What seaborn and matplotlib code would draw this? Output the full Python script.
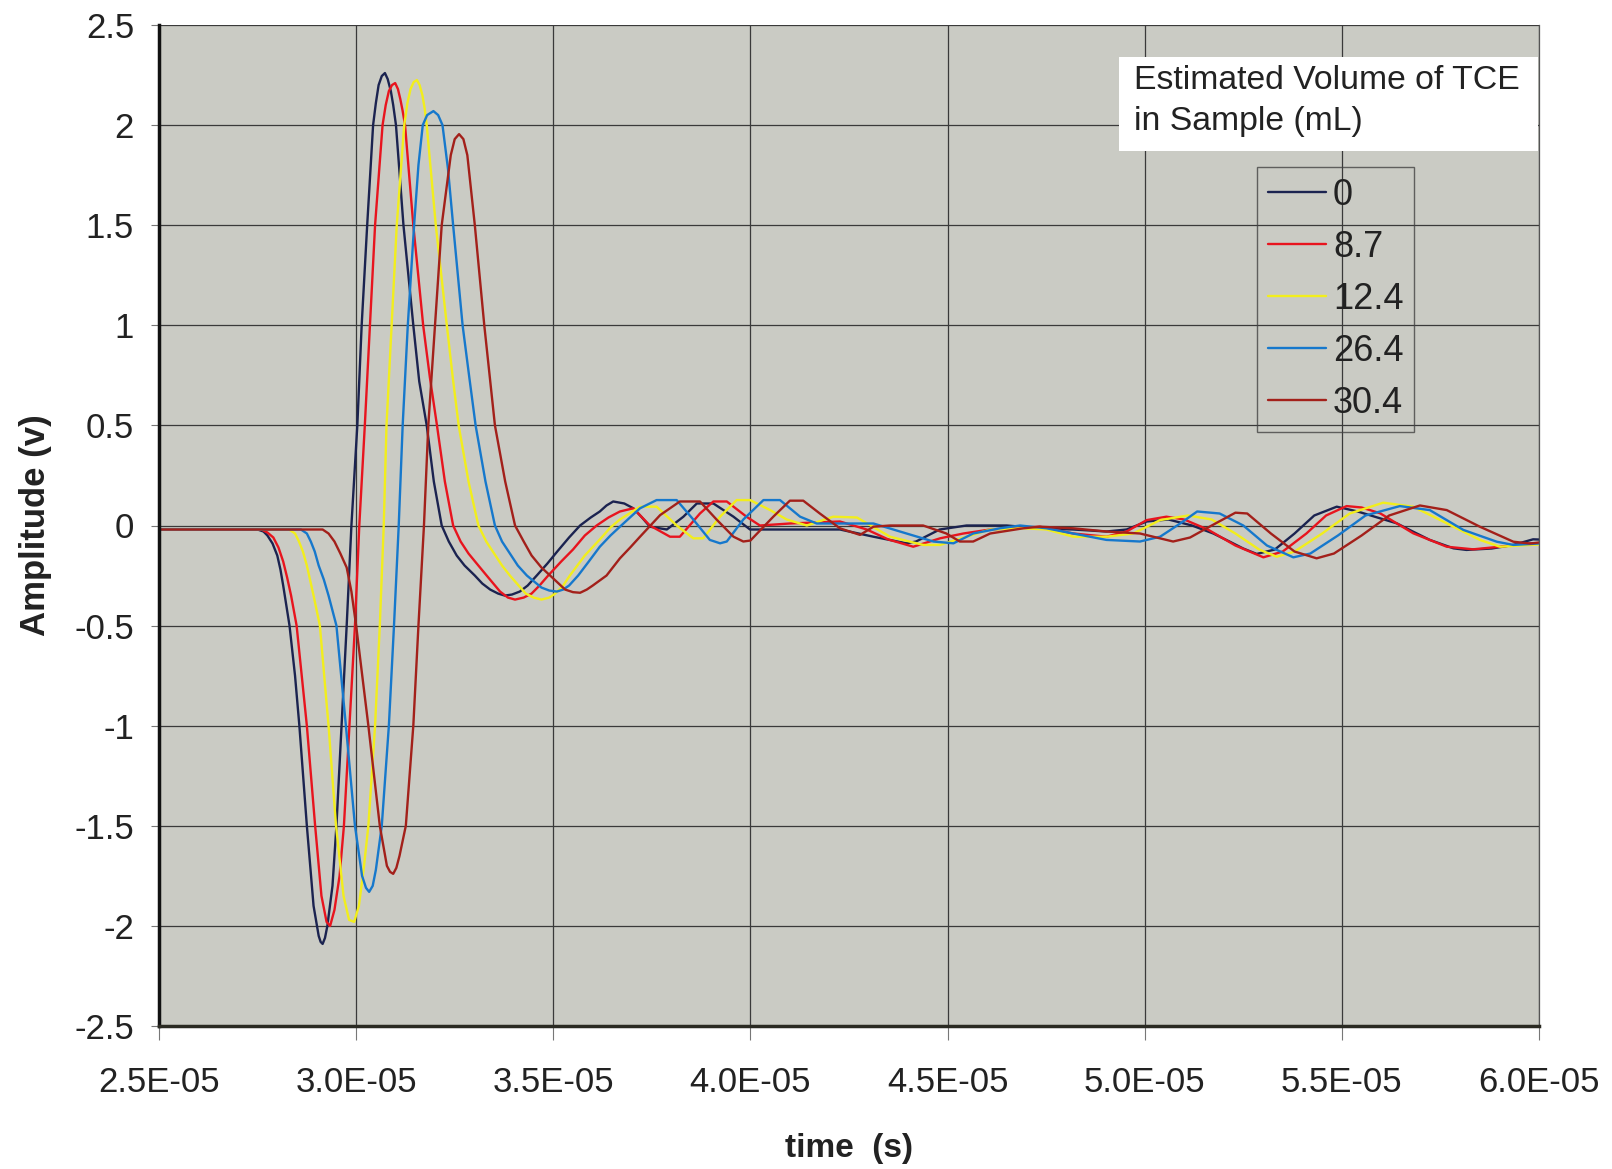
import numpy as np
import pandas as pd
import matplotlib
matplotlib.use("Agg")
import matplotlib.pyplot as plt
import seaborn as sns
from matplotlib.lines import Line2D
from matplotlib.patches import Rectangle

# ---------------- data (time in microseconds, amplitude in volts) ----------------
volumes = ["0", "8.7", "12.4", "26.4", "30.4"]

t_0 = [25.0, 27.5, 27.65, 27.75, 27.88, 28.0, 28.08, 28.15, 28.31, 28.45, 28.56, 28.75, 28.92, 29.05, 29.1,
       29.15, 29.21, 29.27, 29.4, 29.5, 29.63, 29.76, 29.88, 30.03, 30.14, 30.28, 30.43, 30.5, 30.57, 30.65,
       30.73, 30.8, 30.88, 30.94, 31.01, 31.2, 31.45, 31.6, 31.79, 31.97, 32.17, 32.35, 32.55, 32.75, 33.01,
       33.2, 33.4, 33.6, 33.77, 33.95, 34.15, 34.35, 34.58, 34.85, 35.1, 35.4, 35.68, 35.95, 36.18, 36.35,
       36.52, 36.8, 37.03, 37.25, 37.45, 37.88, 38.3, 38.64, 39.06, 39.57, 39.99, 41.26, 42.27, 43.12, 43.96,
       44.2, 44.8, 45.48, 46.5, 47.34, 48.18, 49.03, 49.54, 50.05, 50.6, 51.2, 51.74, 52.16, 52.5, 52.84,
       53.3, 53.8, 54.3, 54.87, 55.4, 55.9, 56.39, 56.8, 57.23, 57.83, 58.16, 58.8, 59.35, 59.85, 60.0]
v_0 = [-0.02, -0.02, -0.03, -0.05, -0.09, -0.15, -0.22, -0.3, -0.5, -0.75, -1.0, -1.5, -1.9, -2.05, -2.08,
       -2.09, -2.06, -2.0, -1.8, -1.5, -1.0, -0.5, 0.0, 0.5, 1.0, 1.5, 2.0, 2.11, 2.2, 2.245,
       2.26, 2.23, 2.17, 2.1, 2.0, 1.5, 1.0, 0.72, 0.5, 0.22, 0.0, -0.08, -0.15, -0.2, -0.25,
       -0.29, -0.32, -0.34, -0.35, -0.345, -0.33, -0.3, -0.25, -0.19, -0.13, -0.06, 0.0, 0.04, 0.07, 0.1,
       0.12, 0.11, 0.086, 0.04, -0.006, -0.02, 0.044, 0.11, 0.11, 0.044, -0.02, -0.02, -0.02, -0.056, -0.089,
       -0.08, -0.02, 0.0, 0.0, -0.014, -0.02, -0.03, -0.02, 0.02, 0.03, 0.0, -0.04, -0.081, -0.115, -0.142,
       -0.12, -0.04, 0.05, 0.094, 0.07, 0.04, 0.011, -0.03, -0.072, -0.114, -0.122, -0.115, -0.097, -0.069, -0.07]

t_87 = [25.0, 27.6, 27.75, 27.9, 28.03, 28.15, 28.25, 28.35, 28.49, 28.62, 28.75, 28.96, 29.12, 29.25, 29.34,
        29.45, 29.58, 29.69, 29.83, 29.97, 30.08, 30.22, 30.35, 30.48, 30.67, 30.75, 30.83, 30.91, 30.99, 31.06,
        31.12, 31.18, 31.24, 31.45, 31.7, 31.87, 32.05, 32.25, 32.46, 32.65, 32.85, 33.1, 33.31, 33.65, 33.85,
        34.03, 34.25, 34.45, 34.65, 34.87, 35.2, 35.5, 35.8, 36.1, 36.4, 36.69, 37.03, 37.45, 37.96, 38.21,
        38.72, 39.06, 39.4, 39.9, 40.24, 41.0, 42.27, 42.95, 43.5, 44.13, 44.81, 45.4, 46.08, 47.34, 48.19,
        49.03, 49.54, 50.05, 50.55, 51.0, 51.6, 52.3, 53.01, 53.5, 54.1, 54.6, 55.12, 55.5, 55.97, 56.81,
        57.66, 58.33, 59.01, 59.77, 60.0]
v_87 = [-0.02, -0.02, -0.035, -0.06, -0.11, -0.18, -0.26, -0.35, -0.5, -0.75, -1.0, -1.5, -1.85, -1.98, -2.0,
        -1.92, -1.75, -1.5, -1.0, -0.5, 0.0, 0.5, 1.0, 1.5, 2.0, 2.1, 2.17, 2.2, 2.21, 2.18,
        2.13, 2.07, 2.0, 1.5, 1.0, 0.74, 0.5, 0.22, 0.0, -0.08, -0.14, -0.2, -0.25, -0.33, -0.36,
        -0.37, -0.36, -0.34, -0.3, -0.25, -0.18, -0.12, -0.05, 0.0, 0.04, 0.07, 0.086, 0.0, -0.056, -0.056,
        0.06, 0.12, 0.12, 0.044, 0.0, 0.01, 0.02, -0.02, -0.07, -0.106, -0.064, -0.04, -0.02, -0.006, -0.04,
        -0.056, -0.03, 0.027, 0.044, 0.03, -0.02, -0.1, -0.159, -0.13, -0.04, 0.05, 0.097, 0.09, 0.061, -0.039,
        -0.106, -0.119, -0.106, -0.089, -0.09]

t_124 = [25.0, 28.3, 28.45, 28.55, 28.65, 28.75, 28.92, 29.08, 29.3, 29.49, 29.68, 29.82, 29.95, 30.07, 30.2,
         30.31, 30.48, 30.6, 30.7, 30.77, 30.9, 31.03, 31.22, 31.3, 31.38, 31.46, 31.54, 31.61, 31.68, 31.74,
         31.79, 32.02, 32.3, 32.45, 32.6, 32.85, 33.1, 33.3, 33.5, 33.7, 33.9, 34.3, 34.5, 34.7, 34.9,
         35.05, 35.25, 35.42, 35.8, 36.18, 36.45, 36.69, 37.2, 37.62, 38.13, 38.55, 38.8, 39.23, 39.65, 39.99,
         40.5, 40.92, 41.43, 42.1, 42.7, 43.54, 44.38, 44.81, 45.48, 46.08, 46.92, 47.51, 48.19, 49.03, 49.71,
         50.39, 51.1, 51.7, 52.3, 52.9, 53.35, 53.8, 54.5, 55.2, 56.05, 56.81, 57.66, 58.5, 59.01, 59.77, 60.0]
v_124 = [-0.02, -0.02, -0.04, -0.08, -0.13, -0.2, -0.35, -0.5, -1.0, -1.5, -1.85, -1.97, -1.98, -1.9, -1.7,
         -1.5, -1.0, -0.5, 0.0, 0.5, 1.0, 1.5, 2.0, 2.11, 2.18, 2.215, 2.225, 2.2, 2.15, 2.08,
         2.0, 1.5, 1.0, 0.74, 0.5, 0.22, 0.0, -0.08, -0.14, -0.2, -0.25, -0.34, -0.36, -0.37, -0.36,
         -0.34, -0.3, -0.25, -0.15, -0.07, -0.01, 0.03, 0.094, 0.094, 0.0, -0.064, -0.064, 0.044, 0.127, 0.127,
         0.077, 0.03, 0.0, 0.044, 0.04, -0.056, -0.097, -0.097, -0.056, -0.02, -0.014, -0.02, -0.056, -0.056, -0.04,
         0.027, 0.05, 0.03, -0.04, -0.12, -0.156, -0.13, -0.04, 0.06, 0.114, 0.094, 0.011, -0.072, -0.106, -0.097, -0.095]

t_264 = [25.0, 28.6, 28.75, 28.85, 28.95, 29.05, 29.18, 29.3, 29.5, 29.74, 29.97, 30.15, 30.25, 30.33, 30.42,
         30.5, 30.65, 30.83, 30.96, 31.08, 31.18, 31.31, 31.47, 31.58, 31.69, 31.8, 31.96, 32.08, 32.19, 32.33,
         32.46, 32.7, 32.87, 33.03, 33.28, 33.52, 33.7, 33.9, 34.1, 34.33, 34.7, 34.9, 35.09, 35.25, 35.4,
         35.63, 35.9, 36.18, 36.45, 36.69, 37.2, 37.62, 38.13, 38.55, 38.97, 39.23, 39.4, 39.82, 40.33, 40.75,
         41.26, 41.68, 42.27, 43.12, 43.96, 44.64, 45.15, 45.65, 46.33, 46.84, 47.51, 48.19, 49.03, 49.88, 50.39,
         50.9, 51.33, 51.9, 52.5, 53.1, 53.77, 54.2, 54.9, 55.6, 56.47, 57.23, 58.08, 58.93, 59.35, 60.0]
v_264 = [-0.02, -0.02, -0.04, -0.08, -0.13, -0.2, -0.27, -0.35, -0.5, -1.0, -1.5, -1.75, -1.81, -1.83, -1.8,
         -1.72, -1.5, -1.0, -0.5, 0.0, 0.5, 1.0, 1.5, 1.8, 2.0, 2.05, 2.07, 2.05, 2.0, 1.78,
         1.5, 1.0, 0.74, 0.5, 0.22, 0.0, -0.08, -0.14, -0.2, -0.25, -0.31, -0.325, -0.33, -0.32, -0.3,
         -0.25, -0.18, -0.106, -0.05, -0.006, 0.086, 0.127, 0.127, 0.03, -0.072, -0.089, -0.08, 0.03, 0.127, 0.127,
         0.044, 0.01, 0.01, 0.01, -0.04, -0.08, -0.089, -0.04, -0.014, 0.0, -0.014, -0.04, -0.072, -0.08, -0.056,
         0.01, 0.07, 0.06, 0.0, -0.1, -0.159, -0.14, -0.05, 0.05, 0.097, 0.077, -0.022, -0.081, -0.097, -0.09]

t_304 = [25.0, 29.15, 29.3, 29.45, 29.6, 29.76, 29.88, 30.0, 30.31, 30.6, 30.78, 30.86, 30.94, 31.02, 31.1,
         31.26, 31.45, 31.58, 31.72, 31.83, 32.0, 32.17, 32.4, 32.5, 32.61, 32.72, 32.82, 33.01, 33.25, 33.52,
         33.78, 34.03, 34.25, 34.45, 34.7, 34.92, 35.3, 35.5, 35.68, 35.85, 36.0, 36.35, 36.69, 36.95, 37.2,
         37.71, 38.21, 38.72, 39.14, 39.57, 39.82, 40.0, 40.58, 41.0, 41.34, 41.76, 42.27, 42.78, 43.12, 43.54,
         44.38, 44.97, 45.31, 45.65, 46.08, 46.92, 47.34, 48.19, 49.03, 49.88, 50.72, 51.15, 51.7, 52.3, 52.6,
         53.2, 53.8, 54.36, 54.8, 55.5, 56.2, 56.98, 57.66, 58.5, 59.35, 59.77, 60.0]
v_304 = [-0.02, -0.02, -0.04, -0.08, -0.14, -0.21, -0.33, -0.5, -1.0, -1.5, -1.7, -1.73, -1.74, -1.71, -1.65,
         -1.5, -1.0, -0.5, 0.0, 0.5, 1.0, 1.5, 1.85, 1.93, 1.955, 1.93, 1.85, 1.5, 1.0, 0.5,
         0.22, 0.0, -0.08, -0.15, -0.21, -0.25, -0.32, -0.333, -0.336, -0.32, -0.3, -0.25, -0.164, -0.11, -0.056,
         0.052, 0.12, 0.12, 0.03, -0.056, -0.08, -0.075, 0.044, 0.124, 0.124, 0.06, -0.014, -0.047, -0.006, 0.0,
         0.0, -0.04, -0.08, -0.08, -0.04, -0.014, -0.006, -0.014, -0.03, -0.04, -0.08, -0.06, 0.0, 0.064, 0.06,
         -0.04, -0.13, -0.164, -0.14, -0.05, 0.05, 0.1, 0.077, -0.006, -0.081, -0.09, -0.085]

times = [t_0, t_87, t_124, t_264, t_304]
amps = [v_0, v_87, v_124, v_264, v_304]

x_ticks = [2.5e-05, 3.0e-05, 3.5e-05, 4.0e-05, 4.5e-05, 5.0e-05, 5.5e-05, 6.0e-05]
x_tick_labels = ["2.5E-05", "3.0E-05", "3.5E-05", "4.0E-05", "4.5E-05", "5.0E-05", "5.5E-05", "6.0E-05"]
y_ticks = [2.5, 2, 1.5, 1, 0.5, 0, -0.5, -1, -1.5, -2, -2.5]
y_tick_labels = ["2.5", "2", "1.5", "1", "0.5", "0", "-0.5", "-1", "-1.5", "-2", "-2.5"]

colors = ["#1b2350", "#e8141e", "#f2ee1c", "#1678cc", "#a3201a"]

# ---------------- build table ----------------
frames = []
for vol, t, v in zip(volumes, times, amps):
    frames.append(pd.DataFrame({"time": np.array(t) * 1e-6, "amplitude": v, "volume": vol}))
df = pd.concat(frames, ignore_index=True)

# ---------------- plot ----------------
sns.set_theme(style="white")
plt.rcParams["font.family"] = ["Liberation Sans", "DejaVu Sans"]

fig = plt.figure(figsize=(16.12, 11.69), dpi=100)
fig.patch.set_facecolor("white")
ax = fig.add_axes([159 / 1612, 1 - 1026 / 1169, (1539 - 159) / 1612, (1026 - 25) / 1169])
ax.set_facecolor("#cacbc4")

sns.lineplot(data=df, x="time", y="amplitude", hue="volume", hue_order=volumes,
             palette=colors, estimator=None, sort=False, linewidth=1.7, legend=False, ax=ax)

ax.set_xlim(2.5e-05, 6.0e-05)
ax.set_ylim(-2.5, 2.5)
ax.set_xticks(x_ticks)
ax.set_xticklabels(x_tick_labels, fontsize=25, color="#222222")
ax.set_yticks(y_ticks)
ax.set_yticklabels(y_tick_labels, fontsize=25, color="#222222")
ax.tick_params(axis="x", length=10, width=0.8, color="#777777", pad=19, direction="out", bottom=True)
ax.tick_params(axis="y", length=6, width=0.8, color="#777777", pad=12, direction="out", left=True)
ax.grid(True, color="#3a3a3a", linewidth=0.9)
ax.set_axisbelow(True)

ax.spines["top"].set_visible(False)
ax.spines["right"].set_color("#555555")
ax.spines["right"].set_linewidth(0.9)
ax.spines["left"].set_color("#111111")
ax.spines["left"].set_linewidth(2.5)
ax.spines["bottom"].set_color("#2a2a22")
ax.spines["bottom"].set_linewidth(2.5)

ax.set_xlabel("time  (s)", fontsize=24, fontweight="bold", color="#222222", labelpad=24)
ax.set_ylabel("Amplitude (v)", fontsize=25, fontweight="bold", color="#222222", labelpad=16)

# legend title box
ax.add_patch(Rectangle((0.696, 0.874), 0.303, 0.094, transform=ax.transAxes,
                       facecolor="white", edgecolor="none", zorder=5))
ax.text(0.7065, 0.945, "Estimated Volume of TCE", transform=ax.transAxes, fontsize=24.3,
        va="center", ha="left", color="#222222", zorder=6)
ax.text(0.7065, 0.904, "in Sample (mL)", transform=ax.transAxes, fontsize=24.3,
        va="center", ha="left", color="#222222", zorder=6)

handles = [Line2D([0], [0], color=c, lw=1.7) for c in colors]
leg = ax.legend(handles, volumes, loc="upper left", bbox_to_anchor=(0.7957, 0.858),
                borderaxespad=0, fontsize=26, frameon=True, fancybox=False,
                handlelength=1.6, handletextpad=0.2, labelspacing=0.47, borderpad=0.3)
leg.get_frame().set_facecolor("none")
leg.get_frame().set_edgecolor("#444444")
leg.get_frame().set_linewidth(1.0)
for txt in leg.get_texts():
    txt.set_color("#222222")

fig.savefig("out.png", dpi=100, facecolor="white")
